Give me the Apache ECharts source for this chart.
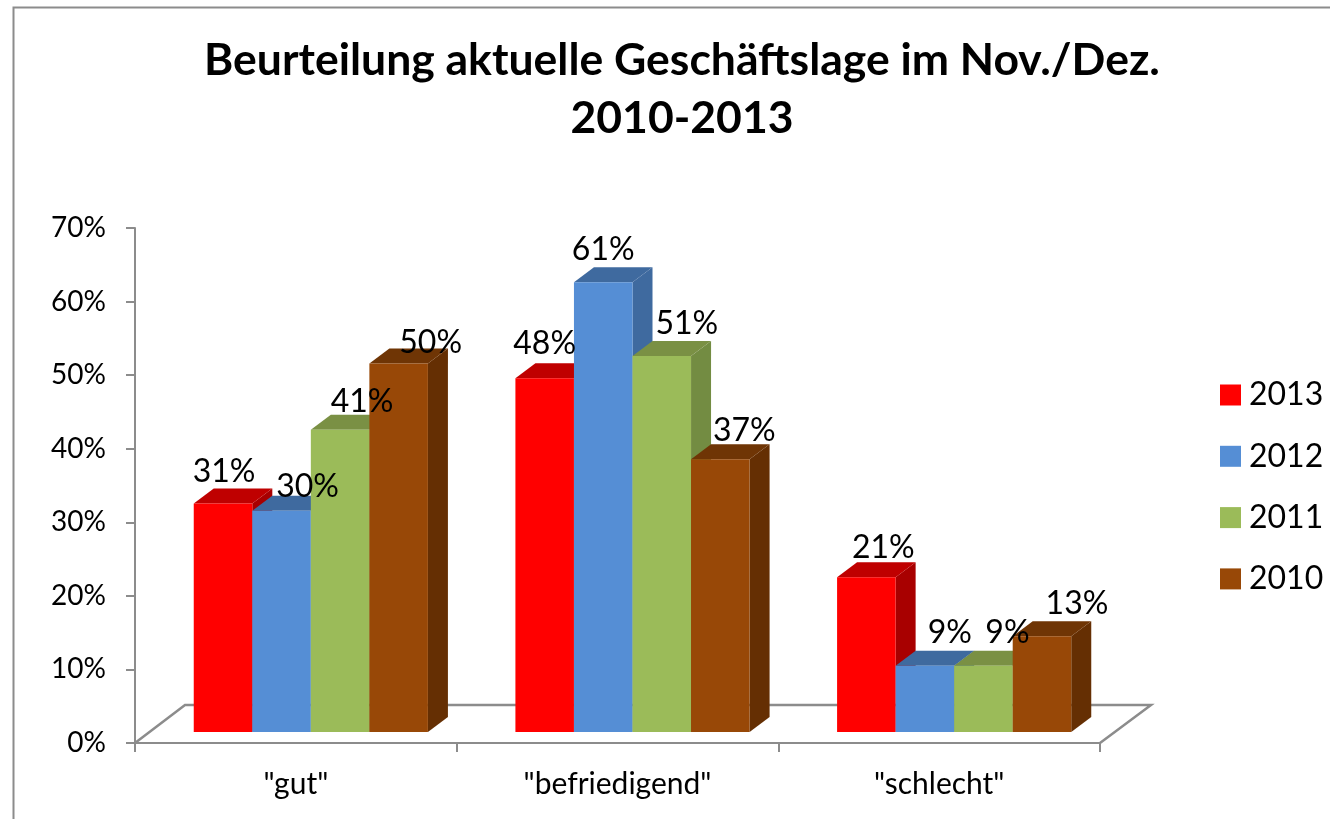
<!DOCTYPE html>
<html>
<head>
<meta charset="utf-8">
<title>Beurteilung aktuelle Geschäftslage</title>
<script src="https://cdn.jsdelivr.net/npm/echarts@6/dist/echarts.min.js"></script>
<style>
html, body { margin: 0; padding: 0; background: #fff; }
#chart { width: 1330px; height: 819px; }
</style>
</head>
<body>
<div id="chart"></div>
<script>
var categories = ['"gut"', '"befriedigend"', '"schlecht"'];
var years = ['2013', '2012', '2011', '2010'];
var values2013 = [0.31, 0.48, 0.21];
var values2012 = [0.30, 0.61, 0.09];
var values2011 = [0.41, 0.51, 0.09];
var values2010 = [0.50, 0.37, 0.13];
var yTicks = { min: 0, max: 0.7, interval: 0.1 };

var allValues = [values2013, values2012, values2011, values2010];
var frontColors = ['#FF0000', '#558ED5', '#9BBB59', '#984807'];
var topColors = ['#BF0000', '#3F6A9F', '#7A9044', '#6F3505'];
var sideColors = ['#A80000', '#3F6A9F', '#738C42', '#652F03'];

// hand placed data labels: shift from the bar centre / bar top, by year then category
var labelShiftX = [
    [1, 0, 17],
    [26, 0, 25],
    [22, 25, 24],
    [32, 24, 35]
];
var labelLift = [
    [32, 34, 30],
    [24, 33, 33],
    [28, 32, 33],
    [21, 29, 32]
];

var fontName = 'Lato, "Noto Sans", sans-serif';
var DEPTH_X = 20, DEPTH_Y = 15;
var axisGrey = '#8C8C8C';

function barRect(api, yearIdx) {
    var pos = api.coord([api.value(0), api.value(1)]);
    var base = api.coord([api.value(0), 0]);
    var w = api.size([1, 0])[0] * 0.182;
    return { x: pos[0] - 2 * w + yearIdx * w, w: w, top: pos[1], base: base[1] };
}

function renderBar(yearIdx) {
    return function (params, api) {
        var r = barRect(api, yearIdx);
        var right = r.x + r.w;
        return {
            type: 'group',
            children: [
                { type: 'polygon', shape: { points: [[right, r.top], [right + DEPTH_X, r.top - DEPTH_Y], [right + DEPTH_X, r.base - DEPTH_Y], [right, r.base]] }, style: { fill: sideColors[yearIdx] } },
                { type: 'polygon', shape: { points: [[r.x, r.top], [r.x + DEPTH_X, r.top - DEPTH_Y], [right + DEPTH_X, r.top - DEPTH_Y], [right, r.top]] }, style: { fill: topColors[yearIdx] } },
                { type: 'rect', shape: { x: r.x, y: r.top, width: r.w, height: r.base - r.top }, style: { fill: frontColors[yearIdx] } }
            ]
        };
    };
}

function renderLabel(yearIdx) {
    return function (params, api) {
        var r = barRect(api, yearIdx);
        return {
            type: 'text',
            x: r.x + r.w / 2 + labelShiftX[yearIdx][params.dataIndex],
            y: r.top - labelLift[yearIdx][params.dataIndex],
            style: {
                text: Math.round(api.value(1) * 100) + '%',
                font: '32px ' + fontName,
                fill: '#000',
                align: 'center',
                verticalAlign: 'middle'
            }
        };
    };
}

var series = [];
years.forEach(function (year, i) {
    series.push({
        name: year,
        type: 'custom',
        xAxisIndex: 1,
        yAxisIndex: 1,
        z: 3,
        itemStyle: { color: frontColors[i] },
        renderItem: renderBar(i),
        encode: { x: 0, y: 1 },
        data: allValues[i].map(function (v, c) { return [c, v]; })
    });
});
years.forEach(function (year, i) {
    series.push({
        name: year + ' Werte',
        type: 'custom',
        xAxisIndex: 1,
        yAxisIndex: 1,
        z: 5,
        renderItem: renderLabel(i),
        encode: { x: 0, y: 1 },
        data: allValues[i].map(function (v, c) { return [c, v]; })
    });
});

var myChart = echarts.init(document.getElementById('chart'), null, { renderer: 'canvas' });
myChart.setOption({
    animation: false,
    backgroundColor: '#fff',
    title: {
        text: 'Beurteilung aktuelle Geschäftslage im Nov./Dez.\n2010-2013',
        left: 677,
        top: 27,
        textAlign: 'center',
        textStyle: { fontFamily: fontName, fontWeight: 'bold', fontSize: 44.5, lineHeight: 58, color: '#000' }
    },
    legend: {
        orient: 'vertical',
        left: 1215,
        top: 374,
        data: years,
        icon: 'rect',
        itemWidth: 21,
        itemHeight: 21,
        itemGap: 29.3,
        selectedMode: false,
        textStyle: { fontFamily: fontName, fontSize: 32, color: '#000', padding: [0, 0, 0, 3] }
    },
    grid: [
        { left: 135, top: 228, width: 965, height: 515 },
        // front plane of the bars, pushed in front of the floor
        { left: 150, top: 216, width: 965, height: 516 }
    ],
    xAxis: [
        {
            type: 'category',
            data: categories,
            axisLine: { lineStyle: { color: axisGrey, width: 2 } },
            axisTick: { show: true, length: 9, lineStyle: { color: axisGrey, width: 2 } },
            axisLabel: { fontFamily: fontName, fontSize: 30, color: '#000', margin: 26 }
        },
        { type: 'category', gridIndex: 1, data: categories, show: false }
    ],
    yAxis: [
        {
            type: 'value',
            min: yTicks.min,
            max: yTicks.max,
            interval: yTicks.interval,
            splitLine: { show: false },
            axisLine: { show: true, lineStyle: { color: axisGrey, width: 2 } },
            axisTick: { show: true, length: 9, lineStyle: { color: axisGrey, width: 2 } },
            axisLabel: {
                fontFamily: fontName,
                fontSize: 28,
                color: '#000',
                margin: 29,
                padding: [8, 0, 0, 0],
                formatter: function (v) { return Math.round(v * 100) + '%'; }
            }
        },
        { type: 'value', gridIndex: 1, min: yTicks.min, max: yTicks.max, show: false, splitLine: { show: false } }
    ],
    graphic: [
        // chart frame, only top and left fall inside the screenshot
        { type: 'polyline', shape: { points: [[13.5, 819], [13.5, 7.5], [1330, 7.5]] }, style: { stroke: '#8C8C8C', lineWidth: 2, fill: null }, silent: true },
        // floor of the 3d plot
        { type: 'polyline', shape: { points: [[135, 743], [185, 705], [1151, 705], [1100, 743]] }, style: { stroke: axisGrey, lineWidth: 2.5, fill: null }, silent: true }
    ],
    series: series
});
</script>
</body>
</html>
